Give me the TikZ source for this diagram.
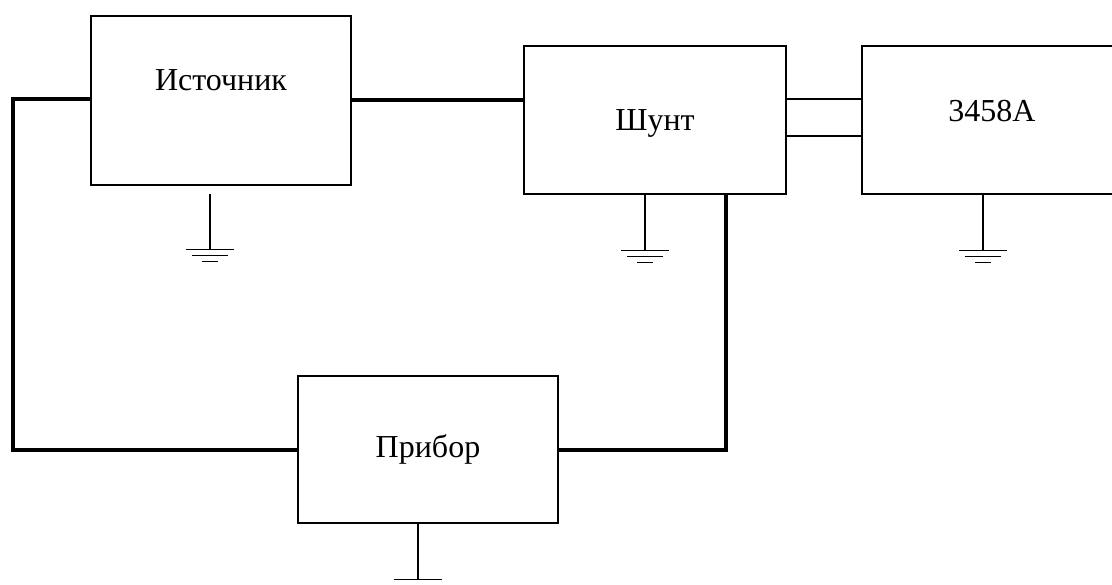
\documentclass[tikz,border=0pt]{standalone}
\usepackage{fontspec}
\setmainfont{Liberation Serif}
\tikzset{
    blok/.style={draw, line width=1.3pt, minimum width=260pt, inner sep=0pt},
    lbl/.style={anchor=base, font=\fontsize{32}{38}\selectfont},
    wire/.style={line width=4pt},
    thin wire/.style={line width=1.4pt},
    pics/earth/.style={code={
        \draw[line width=1.3pt] (0,0)--(0,56);
        \draw[line width=1.3pt] (-24,56)--(24,56);
        \draw[line width=1.3pt] (-18,62)--(18,62);
        \draw[line width=1.3pt] (-8,68)--(8,68);
    }}
}
\begin{document}
\begin{tikzpicture}[x=1pt, y=-1pt]
\useasboundingbox (0,0) rectangle (1112,585);
% blocks
\node[blok, minimum height=169pt] (ist) at (221,100.5) {};
\node[blok, minimum width=262pt, minimum height=148pt] (shunt) at (655,120) {};
\node[blok, minimum width=262pt, minimum height=148pt] (dmm) at (993,120) {};
\node[blok, minimum height=147pt] (prib) at (428,449.5) {};
\node[lbl] (istt) at (221,91) {Источник};
\node[lbl] (shuntt) at (655,131) {Шунт};
\node[lbl] (dmmt) at (992,122) {3458A};
\node[lbl] (pribt) at (428,457) {Прибор};
% grounds
\pic at ([xshift=-11pt,yshift=-8pt]ist.south) {earth};
\pic at ([xshift=-10pt]shunt.south) {earth};
\pic at ([xshift=-10pt]dmm.south) {earth};
\pic at ([xshift=-10pt]prib.south) {earth};
% wires
\coordinate (lt) at (12.5,99);
\coordinate (lb) at (12.5,450);
\coordinate (rb) at (726,450);
\draw[wire] (ist.east |- 0,100) -- (shunt.west |- 0,100);
\draw[wire] (ist.west |- lt) -- (lt) -- (lb) -- (prib.west |- lb);
\draw[wire] (prib.east |- rb) -- (rb) -- (rb |- shunt.south);
\draw[thin wire] (shunt.east |- 0,99) -- (dmm.west |- 0,99);
\draw[thin wire] (shunt.east |- 0,136) -- (dmm.west |- 0,136);
\end{tikzpicture}
\end{document}
